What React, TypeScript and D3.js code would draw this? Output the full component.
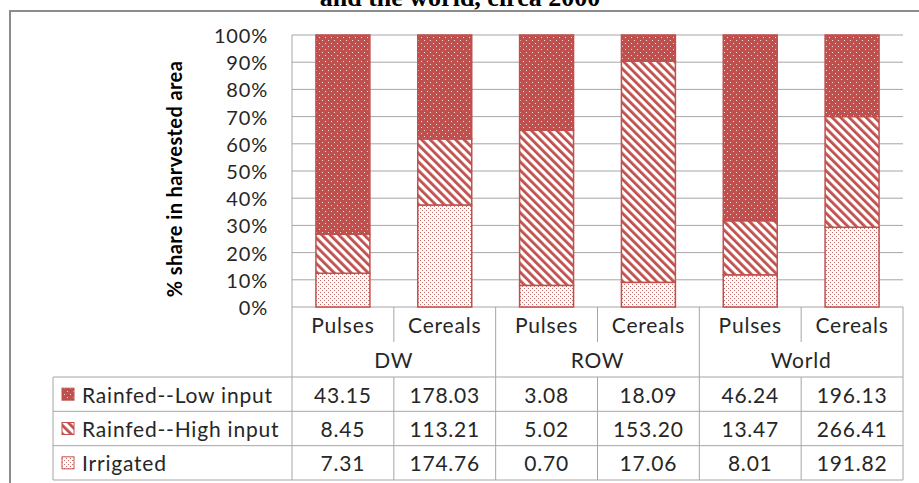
import React from "react";
import * as d3 from "d3";

const groups = ["DW", "ROW", "World"];
const crops = ["Pulses", "Cereals"];
const seriesNames = ["Rainfed--Low input", "Rainfed--High input", "Irrigated"];
const rainfedLow = [43.15, 178.03, 3.08, 18.09, 46.24, 196.13];
const rainfedHigh = [8.45, 113.21, 5.02, 153.2, 13.47, 266.41];
const irrigated = [7.31, 174.76, 0.7, 17.06, 8.01, 191.82];
const yTicks = [0, 0.1, 0.2, 0.3, 0.4, 0.5, 0.6, 0.7, 0.8, 0.9, 1];
const titleText = "and the world, circa 2000";
const yTitle = "% share in harvested area";

const W = 919;
const H = 483;
const RED = "#C0504D";
const GRID = "#A6A6A6";
const TXT = "#262626";
const FONT = "Lato, 'Open Sans', sans-serif";
const LS = 0.8;

export default function App() {
  const categories = groups.flatMap((g) => crops.map((c) => `${g}|${c}`));
  const rows = categories.map((k, i) => ({
    key: k,
    irr: irrigated[i],
    high: rainfedHigh[i],
    low: rainfedLow[i],
  }));
  const seriesKeys = ["low", "high", "irr"];
  const patIds = ["patLow", "patHigh", "patIrr"];
  const tableValues = [rainfedLow, rainfedHigh, irrigated];

  const stack = d3
    .stack<any>()
    .keys(["irr", "high", "low"])
    .offset(d3.stackOffsetExpand);
  const stacked = stack(rows);

  const plotL = 292;
  const plotR = 903;
  const xCell = d3.scaleBand().domain(categories).range([plotL, plotR]).padding(0);
  const xBar = d3
    .scaleBand()
    .domain(categories)
    .range([plotL, plotR])
    .paddingInner(0.47)
    .paddingOuter(0.235);
  const xGroup = d3.scaleBand().domain(groups).range([plotL, plotR]).padding(0);
  const y = d3.scaleLinear().domain([0, 1]).range([307, 35]);
  const rowY = d3.scaleBand().domain(seriesNames).range([377, 480]);
  const fmt = d3.format(".2f");
  const pct = d3.format(".0%");

  const tableLeft = 53;
  const cropRowTop = y(0);
  const cropRowBot = 342;
  const groupRowBot = 377;
  const tableBot = 480;

  return (
    <svg
      width={W}
      height={H}
      style={{ position: "absolute", left: 0, top: 0, background: "#fff" }}
      fontFamily={FONT}
    >
      <defs>
        <pattern id="patLow" width={6} height={6} patternUnits="userSpaceOnUse">
          <rect width={6} height={6} fill={RED} />
          <rect x={1} y={1} width={1} height={1} fill="#F8DEDD" />
          <rect x={4} y={4} width={1} height={1} fill="#F8DEDD" />
        </pattern>
        <pattern
          id="patHigh"
          width={6}
          height={6}
          patternUnits="userSpaceOnUse"
          patternTransform="rotate(-45)"
        >
          <rect width={6} height={6} fill="#fff" />
          <rect width={2.8} height={6} fill={RED} />
        </pattern>
        <pattern id="patIrr" width={4} height={4} patternUnits="userSpaceOnUse">
          <rect width={4} height={4} fill="#fff" />
          <rect x={0} y={0} width={1} height={1} fill={RED} opacity={0.85} />
          <rect x={2} y={2} width={1} height={1} fill={RED} opacity={0.85} />
        </pattern>
      </defs>

      {/* outer frame */}
      <line x1={10} x2={W} y1={11} y2={11} stroke="#8C8C8C" strokeWidth={2} />
      <line x1={10} x2={10} y1={10} y2={H} stroke="#8C8C8C" strokeWidth={2} />

      {/* title (cut off at top, as in the source) */}
      <text
        x={460}
        y={6}
        textAnchor="middle"
        fontFamily="'Liberation Serif', 'Times New Roman', serif"
        fontWeight="bold"
        fontSize={26}
        fill="#000"
      >
        {titleText}
      </text>

      {/* gridlines */}
      {yTicks.map((t) => (
        <line key={t} x1={plotL} x2={plotR} y1={y(t)} y2={y(t)} stroke={GRID} strokeWidth={1} />
      ))}
      <line x1={plotL} x2={plotL} y1={y(1)} y2={tableBot} stroke={GRID} strokeWidth={1} />

      {/* y tick labels */}
      {yTicks.map((t) => (
        <text
          key={t}
          x={268}
          y={y(t)}
          textAnchor="end"
          dominantBaseline="central"
          fontSize={20}
          letterSpacing={LS}
          fill={TXT}
        >
          {pct(t)}
        </text>
      ))}

      {/* y title */}
      <text
        transform={`translate(174,${(y(0) + y(1)) / 2 + 8}) rotate(-90)`}
        textAnchor="middle"
        dominantBaseline="central"
        fontWeight="bold"
        fontSize={20}
        letterSpacing={0.4}
        fill="#000"
      >
        {yTitle}
      </text>

      {/* bars */}
      {stacked.map((s) => {
        const idx = seriesKeys.indexOf(s.key);
        return (
          <g key={s.key}>
            {s.map((d: any) => (
              <rect
                key={d.data.key}
                x={xBar(d.data.key)}
                width={xBar.bandwidth()}
                y={y(d[1])}
                height={y(d[0]) - y(d[1])}
                fill={`url(#${patIds[idx]})`}
                stroke={RED}
                strokeWidth={1.5}
              />
            ))}
          </g>
        );
      })}

      {/* category axis table */}
      {categories.map((c, i) => (
        <text
          key={c}
          x={(xCell(c) as number) + xCell.bandwidth() / 2}
          y={(cropRowTop + cropRowBot) / 2}
          textAnchor="middle"
          dominantBaseline="central"
          fontSize={21}
          letterSpacing={LS}
          fill={TXT}
        >
          {crops[i % crops.length]}
        </text>
      ))}
      {categories.map((c, i) =>
        i % crops.length === 1 ? (
          <line
            key={c}
            x1={xCell(c)}
            x2={xCell(c)}
            y1={cropRowTop}
            y2={cropRowBot}
            stroke={GRID}
            strokeWidth={1}
          />
        ) : null
      )}
      {groups.map((g) => (
        <text
          key={g}
          x={(xGroup(g) as number) + xGroup.bandwidth() / 2}
          y={(cropRowBot + groupRowBot) / 2}
          textAnchor="middle"
          dominantBaseline="central"
          fontSize={21}
          letterSpacing={LS}
          fill={TXT}
        >
          {g}
        </text>
      ))}
      {groups.map((g, i) =>
        i > 0 ? (
          <line
            key={g}
            x1={xGroup(g)}
            x2={xGroup(g)}
            y1={cropRowTop}
            y2={tableBot}
            stroke={GRID}
            strokeWidth={1}
          />
        ) : null
      )}
      <line x1={plotR} x2={plotR} y1={cropRowTop} y2={tableBot} stroke={GRID} strokeWidth={1} />

      {/* data table */}
      {seriesNames.map((name, r) => {
        const top = rowY(name) as number;
        const cy = top + rowY.bandwidth() / 2;
        return (
          <g key={name}>
            <line x1={tableLeft} x2={plotR} y1={top} y2={top} stroke={GRID} strokeWidth={1} />
            <rect
              x={62}
              y={cy - 6}
              width={12}
              height={12}
              fill={`url(#${patIds[r]})`}
              stroke={RED}
              strokeWidth={1}
            />
            <text
              x={82}
              y={cy}
              dominantBaseline="central"
              fontSize={21}
              letterSpacing={LS}
              fill={TXT}
            >
              {name}
            </text>
            {tableValues[r].map((v, i) => (
              <text
                key={i}
                x={(xCell(categories[i]) as number) + xCell.bandwidth() / 2}
                y={cy}
                textAnchor="middle"
                dominantBaseline="central"
                fontSize={21}
                letterSpacing={LS}
                fill={TXT}
              >
                {fmt(v)}
              </text>
            ))}
          </g>
        );
      })}
      <line x1={tableLeft} x2={plotR} y1={tableBot} y2={tableBot} stroke={GRID} strokeWidth={1} />
      <line x1={tableLeft} x2={tableLeft} y1={groupRowBot} y2={tableBot} stroke={GRID} strokeWidth={1} />
      {categories.map((c, i) =>
        i % crops.length === 1 ? (
          <line
            key={c}
            x1={xCell(c)}
            x2={xCell(c)}
            y1={groupRowBot}
            y2={tableBot}
            stroke={GRID}
            strokeWidth={1}
          />
        ) : null
      )}
    </svg>
  );
}
